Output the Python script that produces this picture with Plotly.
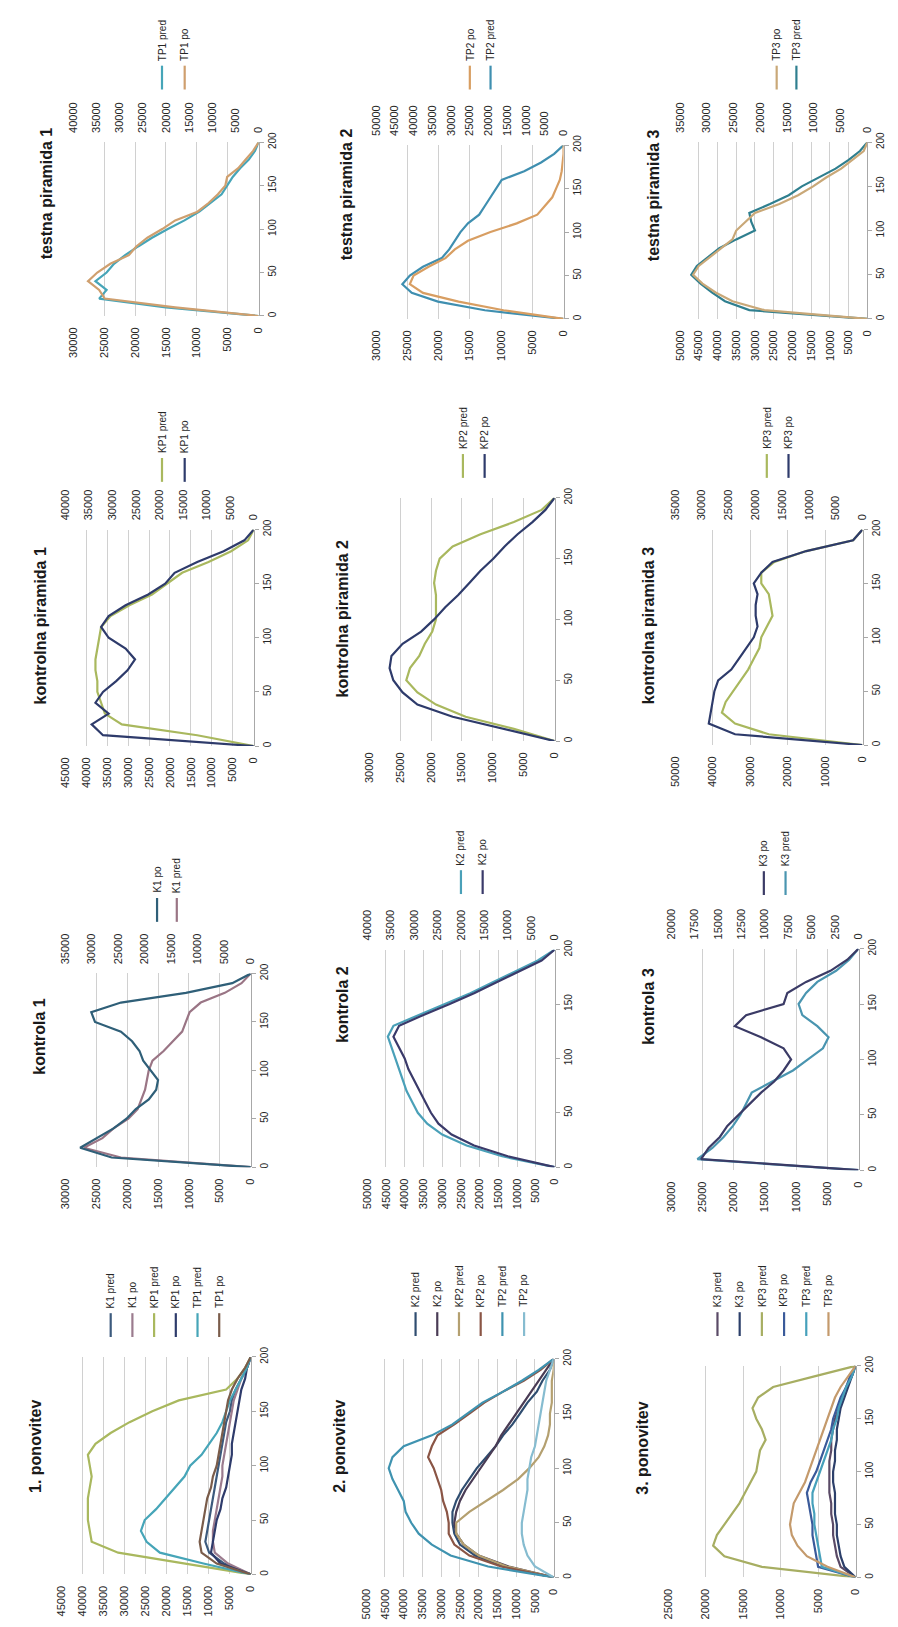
import plotly.graph_objects as go

W, H = 898, 1627

position = [0, 10, 20, 30, 40, 50, 60, 70, 80, 90, 100, 110, 120, 130, 140, 150, 160, 170, 180, 190, 200]
position_ticks = [0, 50, 100, 150, 200]

# testna piramida
tp1_pred = [0, 15000, 25800, 24600, 26400, 24600, 23400, 21600, 19500, 17250, 14700, 12000, 9600, 7800, 6000, 5100, 4200, 3000, 1600, 600, 0]
tp1_po = [0, 18000, 33200, 34400, 36800, 34800, 32000, 28000, 26400, 24000, 20800, 18000, 13200, 10800, 8800, 7200, 6800, 4400, 2800, 1200, 0]
tp2_pred = [0, 12600, 20100, 24300, 25800, 24600, 22500, 19500, 18300, 17400, 16500, 15300, 13500, 12600, 11700, 10800, 9900, 6300, 3600, 1500, 0]
tp2_po = [0, 16000, 28000, 37500, 41000, 40000, 36000, 31500, 29000, 25500, 19500, 12500, 7000, 5000, 3000, 2000, 1000, 500, 250, 0, 0]
tp3_pred = [0, 31500, 38000, 41500, 44500, 47000, 45500, 42500, 39500, 35000, 30000, 31000, 31500, 26000, 21000, 17500, 13000, 8500, 5000, 2000, 0]
tp3_po = [0, 19250, 25200, 28350, 30800, 32550, 31500, 29400, 27300, 25200, 24500, 22750, 21000, 16450, 12950, 10150, 7700, 4900, 2800, 700, 0]

# kontrolna piramida
kp1_pred = [0, 13500, 31500, 35550, 36450, 37350, 37350, 37800, 37800, 37350, 36900, 36450, 34200, 29700, 24300, 20700, 17100, 10800, 5400, 1350, 0]
kp1_po = [0, 32000, 34400, 30800, 33600, 32000, 29200, 26800, 25200, 27200, 30800, 32400, 30800, 27200, 22400, 18800, 16800, 12000, 6400, 2000, 0]
kp2_pred = [0, 6600, 14400, 19200, 22200, 24000, 23400, 21900, 21000, 19800, 19200, 19200, 19200, 19500, 19200, 18600, 16500, 12000, 6600, 2100, 0]
kp2_po = [0, 8100, 16500, 22200, 24600, 26100, 26700, 26400, 24600, 21600, 19500, 17700, 15600, 13800, 12000, 9900, 8100, 6000, 3600, 1500, 0]
kp3_pred = [0, 25000, 34000, 37500, 36500, 34500, 32500, 30500, 29000, 27500, 27000, 25500, 24000, 24500, 25000, 27000, 27000, 23500, 15000, 2500, 0]
kp3_po = [0, 23800, 28700, 28350, 28000, 27650, 26950, 24500, 23100, 21700, 20300, 19600, 19950, 19950, 19600, 20300, 18900, 16800, 10500, 1750, 0]

# kontrola
k1_pred = [0, 21000, 27000, 24000, 22200, 19800, 18300, 17700, 17100, 16800, 16500, 15900, 14100, 12600, 11100, 10500, 9900, 8100, 4200, 1500, 0]
k1_po = [0, 26250, 32200, 29050, 25900, 23450, 21700, 19250, 17850, 17500, 18900, 20300, 21000, 22400, 24500, 29400, 30100, 24500, 12250, 3500, 0]
k2_pred = [0, 14000, 23500, 30000, 34000, 36500, 38000, 39500, 40500, 41500, 42500, 43500, 44500, 43000, 36000, 29000, 22500, 16500, 10500, 4500, 0]
k2_po = [0, 10000, 17200, 22000, 24800, 26400, 27600, 28800, 30000, 31200, 32000, 33200, 34400, 33200, 28000, 22400, 17200, 12400, 7600, 2800, 0]
k3_pred = [0, 25800, 23400, 21600, 20100, 18900, 18000, 17100, 13800, 10500, 8100, 5700, 4800, 6600, 9000, 9600, 8400, 6600, 3600, 1500, 0]
k3_po = [0, 16800, 16000, 14800, 14000, 12800, 11600, 10400, 9000, 8000, 7200, 8000, 10400, 13200, 12000, 8000, 7600, 5600, 3000, 1200, 0]

# 1. ponovitev
r1_k_pred = [0, 6300, 9900, 10800, 10350, 9900, 9450, 9000, 8550, 8100, 7650, 7200, 6750, 6300, 5850, 4950, 4500, 3600, 2250, 900, 0]
r1_k_po = [0, 5400, 8550, 9000, 9000, 8550, 8100, 7650, 7200, 6750, 6750, 6300, 5850, 5400, 4950, 4500, 4050, 3150, 2250, 900, 0]
r1_kp_pred = [0, 15750, 31500, 37800, 38250, 38700, 38700, 38700, 38250, 37800, 38250, 38700, 36900, 33300, 28800, 23400, 17100, 5850, 3150, 1350, 0]
r1_kp_po = [0, 7200, 9450, 9000, 8550, 8100, 7200, 6750, 5850, 5400, 4950, 4500, 4500, 4050, 3600, 3150, 2700, 2250, 1350, 900, 0]
r1_tp_pred = [0, 11250, 21600, 24750, 26100, 25200, 22500, 20250, 18000, 15750, 14400, 11700, 9900, 8100, 6750, 5850, 4950, 3600, 2250, 900, 0]
r1_tp_po = [0, 8100, 11700, 12150, 11700, 11250, 10800, 10350, 9450, 9000, 8100, 7650, 7200, 6750, 6300, 5850, 5400, 4500, 3150, 1350, 0]

# 2. ponovitev
r2_k_pred = [0, 13500, 21000, 25000, 26500, 27000, 27000, 26000, 24500, 22500, 20500, 18000, 15500, 13500, 11000, 9000, 7000, 4500, 3000, 1000, 0]
r2_k_po = [0, 12000, 20000, 24000, 26000, 26500, 26000, 25000, 23500, 21500, 19500, 17500, 15500, 14000, 12000, 10000, 8000, 6000, 4000, 2000, 0]
r2_kp_pred = [0, 12500, 20000, 24000, 26000, 26000, 22500, 18000, 13500, 9500, 6500, 4000, 2500, 1500, 1000, 1000, 500, 500, 500, 0, 0]
r2_kp_po = [0, 14000, 22500, 26500, 28000, 28000, 28500, 29500, 30000, 31000, 32000, 33500, 32500, 31000, 26500, 22500, 18500, 13500, 8000, 3500, 0]
r2_tp_pred = [0, 17500, 27500, 32500, 36000, 38000, 39500, 40000, 41500, 43000, 44000, 43000, 40000, 32500, 27000, 23000, 19000, 13500, 8500, 4000, 0]
r2_tp_po = [0, 5000, 7000, 8000, 8500, 8500, 8000, 7500, 7000, 7000, 6500, 6000, 5000, 4500, 4000, 3500, 3000, 2500, 2000, 1000, 0]

# 3. ponovitev
r3_k_pred = [0, 2000, 2500, 2750, 3000, 3000, 3250, 3250, 3500, 3500, 3500, 3500, 3250, 3250, 3000, 2750, 2250, 1750, 1250, 500, 0]
r3_k_po = [0, 1500, 2000, 2250, 2500, 2500, 2750, 2750, 2750, 3000, 3000, 2750, 2750, 2500, 2500, 2250, 2000, 1500, 1000, 500, 0]
r3_kp_pred = [0, 12500, 17500, 19000, 18500, 17500, 16500, 15500, 14750, 14000, 13250, 13000, 12750, 12000, 12500, 13250, 13750, 13000, 11000, 5500, 0]
r3_kp_po = [0, 5000, 5250, 5500, 5750, 5750, 6000, 6250, 6500, 6000, 5250, 4750, 4250, 3750, 3250, 3000, 2500, 2000, 1250, 750, 0]
r3_tp_pred = [0, 4500, 4750, 5000, 5250, 5500, 5500, 5750, 5750, 5250, 4750, 4250, 3750, 3250, 3000, 2500, 2250, 1750, 1250, 500, 0]
r3_tp_po = [0, 3750, 6500, 7750, 8500, 8750, 8500, 8250, 7500, 6750, 6250, 5750, 5250, 4750, 4250, 3750, 3250, 2750, 2000, 1000, 0]

YG, NAVY = "#a9b85e", "#2e3b6b"

# box = (x of axis max, x of value 0, y of position 200, y of position 0) in page pixels
panels = [
    dict(title="testna piramida 1", box=(60, 248, 125, 300), tpos=(33, 177), ax1=(30000, 5000), ax2=(40000, 5000),
         series=[("TP1 pred", tp1_pred, "#46a5b8", 1), ("TP1 po", tp1_po, "#cf9f6e", 2)], leg=(150, 23, 72)),
    dict(title="testna piramida 2", box=(367, 557, 128, 303), tpos=(337, 177), ax1=(30000, 5000), ax2=(50000, 5000),
         series=[("TP2 po", tp2_po, "#d89e62", 2), ("TP2 pred", tp2_pred, "#3f8fb0", 1)], leg=(462, 21, 72)),
    dict(title="testna piramida 3", box=(675, 865, 125, 303), tpos=(648, 178), ax1=(50000, 5000), ax2=(35000, 5000),
         series=[("TP3 po", tp3_po, "#c9a878", 2), ("TP3 pred", tp3_pred, "#2f7f8f", 1)], leg=(773, 20, 72)),
    dict(title="kontrolna piramida 1", box=(52, 243, 515, 733), tpos=(27, 612), ax1=(45000, 5000), ax2=(40000, 5000),
         series=[("KP1 pred", kp1_pred, YG, 1), ("KP1 po", kp1_po, NAVY, 2)], leg=(150, 23, 467)),
    dict(title="kontrolna piramida 2", box=(360, 548, 483, 728), tpos=(333, 605), ax1=(30000, 5000), ax2=None,
         series=[("KP2 pred", kp2_pred, YG, 1), ("KP2 po", kp2_po, NAVY, 1)], leg=(455, 22, 463)),
    dict(title="kontrolna piramida 3", box=(670, 860, 515, 732), tpos=(643, 612), ax1=(50000, 10000), ax2=(35000, 5000),
         series=[("KP3 pred", kp3_pred, YG, 1), ("KP3 po", kp3_po, NAVY, 2)], leg=(763, 22, 463)),
    dict(title="kontrola 1", box=(52, 240, 962, 1157), tpos=(25, 1025), ax1=(30000, 5000), ax2=(35000, 5000),
         series=[("K1 po", k1_po, "#2f5f78", 2), ("K1 pred", k1_pred, "#9a7585", 1)], leg=(145, 20, 910)),
    dict(title="kontrola 2", box=(358, 548, 938, 1157), tpos=(333, 993), ax1=(50000, 5000), ax2=(40000, 5000),
         series=[("K2 pred", k2_pred, "#4aa0b8", 1), ("K2 po", k2_po, "#3a3a6a", 2)], leg=(453, 22, 882)),
    dict(title="kontrola 3", box=(666, 856, 937, 1160), tpos=(643, 995), ax1=(30000, 5000), ax2=(20000, 2500),
         series=[("K3 po", k3_po, "#3b3b66", 2), ("K3 pred", k3_pred, "#4a95b0", 1)], leg=(760, 22, 883)),
    dict(title="1. ponovitev", box=(48, 240, 1348, 1567), tpos=(22, 1438), ax1=(45000, 5000), ax2=None,
         series=[("K1 pred", r1_k_pred, "#3c5a7d", 1), ("K1 po", r1_k_po, "#9b7b8e", 1),
                 ("KP1 pred", r1_kp_pred, YG, 1), ("KP1 po", r1_kp_po, NAVY, 1),
                 ("TP1 pred", r1_tp_pred, "#46a5b8", 1), ("TP1 po", r1_tp_po, "#7a5c4a", 1)], leg=(98, 22, 1328)),
    dict(title="2. ponovitev", box=(357, 547, 1350, 1570), tpos=(330, 1438), ax1=(50000, 5000), ax2=None,
         series=[("K2 pred", r2_k_pred, "#2f4d70", 1), ("K2 po", r2_k_po, "#4a3c55", 1),
                 ("KP2 pred", r2_kp_pred, "#b4a070", 1), ("KP2 po", r2_kp_po, "#8a5545", 1),
                 ("TP2 pred", r2_tp_pred, "#3f93b0", 1), ("TP2 po", r2_tp_po, "#86bcd0", 1)], leg=(407, 22, 1327)),
    dict(title="3. ponovitev", box=(663, 853, 1357, 1570), tpos=(637, 1440), ax1=(25000, 5000), ax2=None,
         series=[("K3 pred", r3_k_pred, "#5a4a66", 1), ("K3 po", r3_k_po, "#2c3f6a", 1),
                 ("KP3 pred", r3_kp_pred, "#a7ae62", 1), ("KP3 po", r3_kp_po, "#3a5a9a", 1),
                 ("TP3 pred", r3_tp_pred, "#46a0bb", 1), ("TP3 po", r3_tp_po, "#c49a6c", 1)], leg=(713, 22.5, 1327)),
]

FONT = "Liberation Sans, Arial, sans-serif"
TXT = "#262626"


def px(x):
    return x / W


def py(y):
    return 1 - y / H


fig = go.Figure()
layout = dict(width=W, height=H, margin=dict(l=0, r=0, t=0, b=0), autosize=False,
              paper_bgcolor="white", plot_bgcolor="white", showlegend=False,
              font=dict(family=FONT, color=TXT), shapes=[], annotations=[])

xi = 0
for i, p in enumerate(panels, start=1):
    xl, xr, yt, yb = p["box"]
    xi += 1
    xa1 = xi
    m1, s1 = p["ax1"]
    ticks1 = list(range(0, m1 + 1, s1))
    layout[f"xaxis{xa1}"] = dict(domain=[px(xl), px(xr)], anchor=f"y{i}", range=[m1, 0], side="bottom",
                                 tickvals=ticks1, ticktext=[str(v) for v in ticks1], tickangle=-90,
                                 showgrid=True, gridcolor="#d0d0d0", gridwidth=1, zeroline=False, showline=False,
                                 ticks="outside", ticklen=6, tickcolor="rgba(0,0,0,0)",
                                 tickfont=dict(size=11, color=TXT, family=FONT), fixedrange=True)
    xa2 = None
    if p["ax2"]:
        xi += 1
        xa2 = xi
        m2, s2 = p["ax2"]
        ticks2 = list(range(0, m2 + 1, s2))
        layout[f"xaxis{xa2}"] = dict(overlaying=f"x{xa1}", anchor=f"y{i}", range=[m2, 0], side="top",
                                     tickvals=ticks2, ticktext=[str(v) for v in ticks2], tickangle=-90,
                                     showgrid=False, zeroline=False, showline=False,
                                     ticks="outside", ticklen=6, tickcolor="rgba(0,0,0,0)",
                                     tickfont=dict(size=11, color=TXT, family=FONT), fixedrange=True)
    layout[f"yaxis{i}"] = dict(domain=[py(yb), py(yt)], anchor=f"x{xa1}", side="right", range=[0, 200],
                               tickvals=position_ticks, ticktext=[str(v) for v in position_ticks], tickangle=-90,
                               showgrid=False, zeroline=False, showline=True, linecolor="#a8a8a8", linewidth=1,
                               ticks="outside", ticklen=4, tickcolor="#a8a8a8",
                               tickfont=dict(size=10, color=TXT, family=FONT), fixedrange=True)
    for name, vals, color, ax in p["series"]:
        fig.add_trace(go.Scatter(x=vals, y=position, mode="lines", name=name,
                                 line=dict(color=color, width=2.2),
                                 xaxis=f"x{xa1 if ax == 1 else xa2}", yaxis=f"y{i}"))
    # title
    tx, ty = p["tpos"]
    layout["annotations"].append(dict(text=f"<b>{p['title']}</b>", x=px(tx), y=py(ty), xref="paper", yref="paper",
                                      textangle=-90, showarrow=False, xanchor="center", yanchor="middle",
                                      font=dict(size=16, color="#1a1a1a", family=FONT)))
    # rotated legend
    lx0, ldx, lyb = p["leg"]
    for j, (name, vals, color, ax) in enumerate(p["series"]):
        lx = lx0 + j * ldx
        layout["shapes"].append(dict(type="line", xref="paper", yref="paper", x0=px(lx), x1=px(lx),
                                     y0=py(lyb), y1=py(lyb - 24), line=dict(color=color, width=2.2)))
        layout["annotations"].append(dict(text=name, x=px(lx), y=py(lyb - 27), xref="paper", yref="paper",
                                          textangle=-90, showarrow=False, xanchor="center", yanchor="bottom",
                                          font=dict(size=10, color=TXT, family=FONT)))

fig.update_layout(**layout)
fig.write_html("out.html")
